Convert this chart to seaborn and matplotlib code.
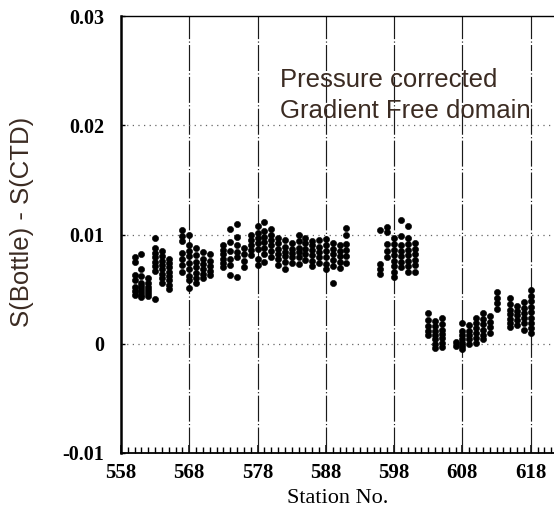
import matplotlib
matplotlib.use("Agg")
import matplotlib.pyplot as plt
import seaborn as sns
import pandas as pd
import numpy as np
from matplotlib.ticker import MultipleLocator, FixedLocator

# ---- data ----
station_nos = [560, 561, 562, 563, 564, 565, 567, 568, 569, 570, 571,
               573, 574, 575, 576, 577, 578, 579, 580, 581, 582, 583,
               584, 585, 586, 587, 588, 589, 590, 591,
               596, 597, 598, 599, 600, 601,
               603, 604, 605, 607, 608, 609, 610, 611, 612, 613,
               615, 616, 617, 618]
salinity_diffs = [
    [0.0079, 0.0075, 0.0063, 0.0058, 0.0052, 0.0048, 0.0045],
    [0.0082, 0.0068, 0.0062, 0.0056, 0.0053, 0.0050, 0.0047, 0.0045, 0.0043],
    [0.0060, 0.0056, 0.0052, 0.0049, 0.0046, 0.0044],
    [0.0097, 0.0088, 0.0083, 0.0079, 0.0075, 0.0071, 0.0067, 0.0041],
    [0.0085, 0.0080, 0.0076, 0.0072, 0.0068, 0.0064, 0.0060, 0.0056],
    [0.0078, 0.0074, 0.0070, 0.0066, 0.0062, 0.0058, 0.0054, 0.0050],
    [0.0104, 0.0099, 0.0094, 0.0083, 0.0078, 0.0072, 0.0066],
    [0.0100, 0.0090, 0.0085, 0.0080, 0.0074, 0.0068, 0.0062, 0.0058, 0.0051],
    [0.0088, 0.0081, 0.0075, 0.0070, 0.0065, 0.0060, 0.0056],
    [0.0084, 0.0078, 0.0073, 0.0068, 0.0064, 0.0060],
    [0.0082, 0.0076, 0.0071, 0.0067, 0.0063],
    [0.0090, 0.0086, 0.0082, 0.0078, 0.0074, 0.0070],
    [0.0105, 0.0093, 0.0085, 0.0078, 0.0072, 0.0063],
    [0.0110, 0.0098, 0.0090, 0.0084, 0.0079, 0.0061],
    [0.0088, 0.0082, 0.0076, 0.0070],
    [0.0100, 0.0095, 0.0090, 0.0086, 0.0081],
    [0.0108, 0.0101, 0.0097, 0.0092, 0.0087, 0.0078, 0.0072],
    [0.0111, 0.0103, 0.0098, 0.0093, 0.0088, 0.0082, 0.0075],
    [0.0105, 0.0100, 0.0095, 0.0090, 0.0085, 0.0079],
    [0.0097, 0.0092, 0.0087, 0.0082, 0.0078, 0.0072],
    [0.0095, 0.0089, 0.0084, 0.0080, 0.0075, 0.0068],
    [0.0092, 0.0087, 0.0083, 0.0079, 0.0074],
    [0.0100, 0.0094, 0.0088, 0.0084, 0.0079, 0.0073],
    [0.0097, 0.0092, 0.0087, 0.0082, 0.0077],
    [0.0094, 0.0090, 0.0086, 0.0081, 0.0076, 0.0071],
    [0.0095, 0.0089, 0.0084, 0.0079, 0.0074],
    [0.0096, 0.0090, 0.0085, 0.0079, 0.0073, 0.0068],
    [0.0092, 0.0087, 0.0082, 0.0077, 0.0071, 0.0056],
    [0.0090, 0.0085, 0.0080, 0.0075, 0.0069],
    [0.0106, 0.0100, 0.0091, 0.0086, 0.0080, 0.0074],
    [0.0104, 0.0073, 0.0068, 0.0064],
    [0.0107, 0.0102, 0.0091, 0.0085, 0.0079],
    [0.0097, 0.0091, 0.0086, 0.0081, 0.0076, 0.0071, 0.0066, 0.0061],
    [0.0113, 0.0099, 0.0090, 0.0085, 0.0080, 0.0075, 0.0070],
    [0.0108, 0.0097, 0.0091, 0.0086, 0.0081, 0.0076, 0.0071, 0.0066],
    [0.0092, 0.0087, 0.0082, 0.0077, 0.0072, 0.0066],
    [0.0028, 0.0022, 0.0016, 0.0012, 0.0008],
    [0.0021, 0.0016, 0.0012, 0.0008, 0.0004, 0.0000, -0.0004],
    [0.0024, 0.0018, 0.0013, 0.0009, 0.0005, 0.0001, -0.0003],
    [0.0002, -0.0002],
    [0.0019, 0.0012, 0.0008, 0.0004, 0.0001, -0.0002, -0.0005],
    [0.0017, 0.0012, 0.0008, 0.0004, 0.0000],
    [0.0024, 0.0019, 0.0014, 0.0010, 0.0005, 0.0001],
    [0.0028, 0.0023, 0.0018, 0.0013, 0.0008, 0.0004],
    [0.0025, 0.0020, 0.0015, 0.0010],
    [0.0047, 0.0042, 0.0037, 0.0032],
    [0.0042, 0.0036, 0.0031, 0.0027, 0.0023, 0.0019, 0.0015],
    [0.0035, 0.0030, 0.0026, 0.0022, 0.0017],
    [0.0038, 0.0033, 0.0028, 0.0024, 0.0019, 0.0013],
    [0.0049, 0.0044, 0.0039, 0.0034, 0.0029, 0.0024, 0.0019, 0.0014, 0.0010],
]
x_ticks = [558, 568, 578, 588, 598, 608, 618]
y_ticks = [-0.01, 0.0, 0.01, 0.02, 0.03]
y_tick_labels = ["-0.01", "0", "0.01", "0.02", "0.03"]
x_label = "Station No."
y_label = "S(Bottle) - S(CTD)"
note_lines = ["Pressure corrected", "Gradient Free domain"]

rows = [(s, v) for s, vals in zip(station_nos, salinity_diffs) for v in vals]
df = pd.DataFrame(rows, columns=["station", "diff"])

sns.set_style("ticks")
W, H = 554, 528
fig = plt.figure(figsize=(W / 100, H / 100), dpi=100)
ax = fig.add_axes([121 / W, 75 / H, 1 - 121 / W + 0.001, 437 / H])

sns.scatterplot(data=df, x="station", y="diff", ax=ax, color="black",
                s=20, edgecolor="black", linewidth=0.4, legend=False, zorder=3)

# grid lines
for xv in x_ticks[1:]:
    ax.axvline(xv, color="#1a1a1a", lw=0.85, ls=(0, (22, 2, 1, 2)), zorder=1)
for yv in [0.0, 0.01, 0.02]:
    ax.axhline(yv, color="#666666", lw=0.9, ls=(0, (1, 3.5)), zorder=1)

ax.set_xlim(558, 558 + (W - 121) / 6.82)
ax.set_ylim(-0.01, 0.03)
ax.set_xlabel("")
ax.set_ylabel("")
for side in ["left", "bottom", "top"]:
    ax.spines[side].set_color("black")
ax.spines["left"].set_linewidth(1.8)
ax.spines["bottom"].set_linewidth(1.3)
ax.spines["top"].set_linewidth(1.0)
ax.spines["right"].set_visible(False)

ax.set_yticks(y_ticks)
ax.set_yticklabels(y_tick_labels)
ax.set_xticks(x_ticks)
ax.tick_params(axis="y", which="major", direction="in", length=3, width=1,
               pad=12, labelsize=14.5, color="black", labelcolor="black",
               left=True, right=False)
ax.tick_params(axis="x", which="major", direction="in", length=6, width=1.1,
               pad=7, labelsize=15, color="black", labelcolor="black",
               bottom=True, top=False)
for lab in ax.get_xticklabels() + ax.get_yticklabels():
    lab.set_fontfamily("Liberation Serif")
    lab.set_fontweight("bold")

fig.text(338 / W, 1 - 503 / H, x_label, ha="center", va="baseline",
         fontsize=16, family="Liberation Serif", color="black")
fig.text(22 / W, 1 - 222 / H, y_label, ha="center", va="center",
         rotation=90, fontsize=18.5, family="Liberation Sans", color="#3b2b22")
fig.text(280 / W, 1 - 87 / H, note_lines[0], ha="left", va="baseline",
         fontsize=18.5, family="Liberation Sans", color="#3b2b22")
fig.text(280 / W, 1 - 118 / H, note_lines[1], ha="left", va="baseline",
         fontsize=18.5, family="Liberation Sans", color="#3b2b22")

# minor ticks every station, set last
ax.xaxis.set_minor_locator(MultipleLocator(1))
ax.tick_params(axis="x", which="minor", direction="in", length=4.5, width=1.0,
               color="black", bottom=True, top=False)
ax.yaxis.set_minor_locator(FixedLocator([]))

fig.savefig("out.png", dpi=100)
